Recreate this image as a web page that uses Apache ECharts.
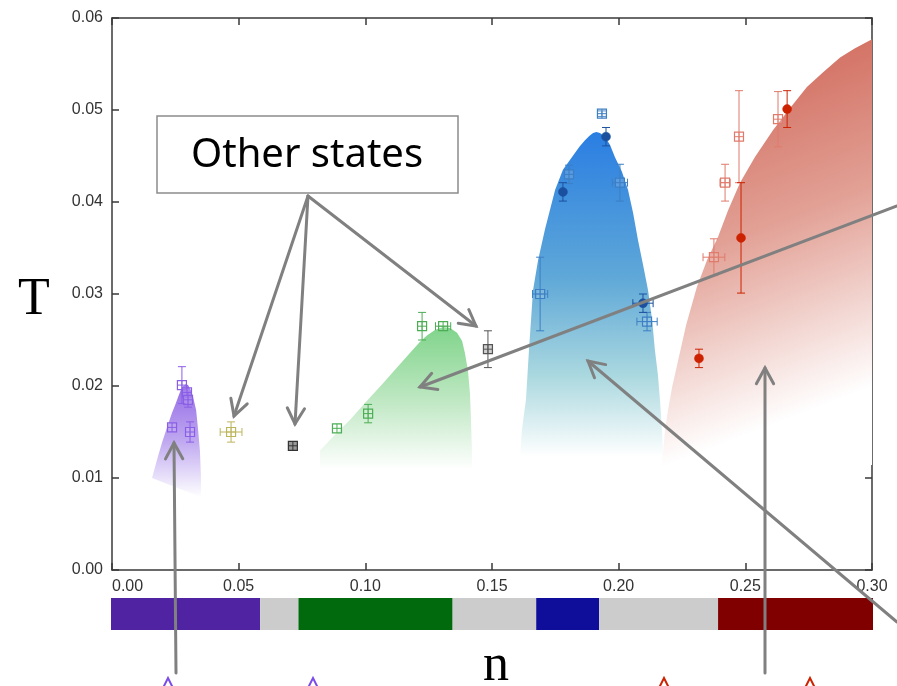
<!DOCTYPE html>
<html><head><meta charset="utf-8">
<script src="https://cdn.jsdelivr.net/npm/echarts@6/dist/echarts.min.js"></script>
<style>html,body{margin:0;padding:0;background:#fff}#c{width:897px;height:686px}</style>
</head><body><div id="c"></div>
<script>
// ---------- data ----------
const xTickLabels = ['0.00','0.05','0.10','0.15','0.20','0.25','0.30'];
const yTickLabels = ['0.00','0.01','0.02','0.03','0.04','0.05','0.06'];

// phase strip under the axis (n ranges)
const phaseStart = [0.000, 0.0587, 0.0738, 0.1345, 0.1674, 0.1922, 0.2390];
const phaseEnd   = [0.0587, 0.0738, 0.1345, 0.1674, 0.1922, 0.2390, 0.300];
const phaseKind  = ['purple','none','green','none','blue','none','red'];

// shaded phase regions (outline in n, T)
const purpleRegionN = [0.0158, 0.0178, 0.0197, 0.0217, 0.0237, 0.0249, 0.0261, 0.0272, 0.0280, 0.0292, 0.0300, 0.0312, 0.0320, 0.0332, 0.0339, 0.0347, 0.0351, 0.0351];
const purpleRegionT = [0.0100, 0.0120, 0.0138, 0.0155, 0.0171, 0.0179, 0.0188, 0.0196, 0.0200, 0.0202, 0.0201, 0.0195, 0.0188, 0.0174, 0.0155, 0.0130, 0.0103, 0.0079];
const greenRegionN = [0.0821, 0.0821, 0.0880, 0.0939, 0.1003, 0.1070, 0.1125, 0.1176, 0.1216, 0.1243, 0.1275, 0.1307, 0.1334, 0.1362, 0.1382, 0.1393, 0.1405, 0.1413, 0.1417, 0.1421, 0.1421];
const greenRegionT = [0.0109, 0.0130, 0.0147, 0.0163, 0.0183, 0.0203, 0.0220, 0.0236, 0.0248, 0.0255, 0.0261, 0.0264, 0.0263, 0.0258, 0.0249, 0.0236, 0.0217, 0.0192, 0.0163, 0.0130, 0.0109];
const blueRegionN = [0.1611, 0.1618, 0.1634, 0.1646, 0.1662, 0.1682, 0.1709, 0.1749, 0.1780, 0.1816, 0.1845, 0.1867, 0.1885, 0.1899, 0.1912, 0.1926, 0.1946, 0.1966, 0.1985, 0.2013, 0.2037, 0.2057, 0.2076, 0.2096, 0.2116, 0.2132, 0.2143, 0.2155, 0.2163, 0.2171, 0.2175];
const blueRegionT = [0.0123, 0.0152, 0.0185, 0.0239, 0.0304, 0.0337, 0.0370, 0.0413, 0.0435, 0.0449, 0.0460, 0.0467, 0.0472, 0.0475, 0.0476, 0.0475, 0.0471, 0.0462, 0.0449, 0.0433, 0.0413, 0.0388, 0.0359, 0.0332, 0.0304, 0.0272, 0.0239, 0.0212, 0.0185, 0.0152, 0.0123];
const redRegionN = [0.2171, 0.2183, 0.2195, 0.2211, 0.2226, 0.2266, 0.2309, 0.2349, 0.2392, 0.2432, 0.2479, 0.2538, 0.2609, 0.2676, 0.2743, 0.2807, 0.2874, 0.2933, 0.3000, 0.3000];
const redRegionT = [0.0114, 0.0152, 0.0174, 0.0199, 0.0217, 0.0266, 0.0308, 0.0337, 0.0362, 0.0391, 0.0421, 0.0449, 0.0478, 0.0502, 0.0525, 0.0541, 0.0557, 0.0567, 0.0577, 0.0114];

// measurements: [n, T, n error, T error]
const purpleOpen = [[0.0237,0.0155,0,0],[0.0276,0.0201,0,0.0020],[0.0296,0.0193,0,0],[0.0300,0.0185,0,0.0008],[0.0308,0.0150,0,0.0011]];
const yellowOpen = [[0.0470,0.0150,0.0043,0.0011]];
const blackOpen  = [[0.0714,0.0135,0,0.0004]];
const greenOpen  = [[0.0888,0.0154,0,0],[0.1011,0.0170,0,0.0010],[0.1224,0.0265,0,0.0015],[0.1307,0.0265,0.0030,0]];
const grayOpen   = [[0.1484,0.0240,0,0.0020]];
const blueOpen   = [[0.1690,0.0300,0.0030,0.0040],[0.1804,0.0430,0,0.0010],[0.1934,0.0496,0,0.0003],[0.2005,0.0421,0.0030,0.0020],[0.2112,0.0270,0.0040,0.0010]];
const blueFilled = [[0.1780,0.0411,0,0.0010],[0.1950,0.0471,0,0.0010],[0.2096,0.0290,0.0040,0.0010]];
const redOpen    = [[0.2376,0.0340,0.0043,0.0020],[0.2420,0.0421,0.0020,0.0020],[0.2475,0.0471,0,0.0050],[0.2629,0.0490,0,0.0030]];
const redFilled  = [[0.2317,0.0230,0,0.0010],[0.2483,0.0361,0,0.0060],[0.2665,0.0501,0,0.0020]];

// ---------- rendering ----------
const chart = echarts.init(document.getElementById('c'));
const G = echarts.graphic;

const phaseColors = {purple:'#4f23a1', none:'#cccccc', green:'#006a0d', blue:'#0e0e9b', red:'#800000'};

function regionSeries(ns, ts, fill){
  const data = ns.map((n,i)=>[n, ts[i]]);
  return {
    type:'custom', xAxisIndex:0, yAxisIndex:0, z:1, silent:true, clip:true,
    data: data,
    renderItem: function(params, api){
      if (params.dataIndex !== 0) return;
      const pts = data.map(d => api.coord(d));
      return {type:'polygon', shape:{points:pts}, style:{fill:fill, stroke:'none'}};
    }
  };
}

function pointSeries(data, color, filled, boxFill){
  return {
    type:'custom', xAxisIndex:0, yAxisIndex:0, z:5, silent:true,
    data: data,
    renderItem: function(params, api){
      const n = api.value(0), T = api.value(1), dn = api.value(2), dT = api.value(3);
      const c = api.coord([n, T]);
      const h = 4.5, cap = 4;
      const st = {stroke: color, lineWidth: 1, fill: null};
      const ch = [];
      if (dT > 0){
        const a = api.coord([n, T + dT]), b = api.coord([n, T - dT]);
        ch.push({type:'line', shape:{x1:c[0], y1:a[1], x2:c[0], y2:b[1]}, style:st});
        ch.push({type:'line', shape:{x1:c[0]-cap, y1:a[1], x2:c[0]+cap, y2:a[1]}, style:st});
        ch.push({type:'line', shape:{x1:c[0]-cap, y1:b[1], x2:c[0]+cap, y2:b[1]}, style:st});
      }
      if (dn > 0){
        const a = api.coord([n - dn, T]), b = api.coord([n + dn, T]);
        ch.push({type:'line', shape:{x1:a[0], y1:c[1], x2:b[0], y2:c[1]}, style:st});
        ch.push({type:'line', shape:{x1:a[0], y1:c[1]-cap, x2:a[0], y2:c[1]+cap}, style:st});
        ch.push({type:'line', shape:{x1:b[0], y1:c[1]-cap, x2:b[0], y2:c[1]+cap}, style:st});
      }
      if (filled){
        ch.push({type:'circle', shape:{cx:c[0], cy:c[1], r:4.5}, style:{fill:color, stroke:color, lineWidth:0.5}});
      } else {
        ch.push({type:'rect', shape:{x:c[0]-h, y:c[1]-h, width:2*h, height:2*h}, style:{fill:boxFill || 'rgba(255,255,255,0.15)', stroke:color, lineWidth:1.2}});
        ch.push({type:'line', shape:{x1:c[0]-h, y1:c[1], x2:c[0]+h, y2:c[1]}, style:st});
        ch.push({type:'line', shape:{x1:c[0], y1:c[1]-h, x2:c[0], y2:c[1]+h}, style:st});
      }
      return {type:'group', children:ch};
    }
  };
}

const phaseData = phaseStart.map((s,i)=>[s, phaseEnd[i], i]);
const phaseSeries = {
  type:'custom', xAxisIndex:2, yAxisIndex:2, silent:true,
  data: phaseData,
  renderItem: function(params, api){
    const a = api.coord([api.value(0), 1]), b = api.coord([api.value(1), 0]);
    return {type:'rect', shape:{x:a[0], y:a[1], width:b[0]-a[0], height:b[1]-a[1]},
            style:{fill: phaseColors[phaseKind[api.value(2)]]}};
  }
};

const lin = (stops, x2, y2, x0, y0) => new G.LinearGradient(x0||0, y0||0, x2, y2, stops.map(s=>({offset:s[0], color:s[1]})));

function arrow(x1,y1,x2,y2){
  const a = Math.atan2(y2-y1, x2-x1), L = 18, s = 0.5;
  const st = {stroke:'#808080', lineWidth:3, lineCap:'round', lineJoin:'miter', fill:null};
  return [
    {type:'line', shape:{x1,y1,x2,y2}, style:st, z:20},
    {type:'polyline', shape:{points:[[x2-L*Math.cos(a-s), y2-L*Math.sin(a-s)],[x2,y2],[x2-L*Math.cos(a+s), y2-L*Math.sin(a+s)]]}, style:st, z:20}
  ];
}
function caret(x, color){
  return {type:'polyline', shape:{points:[[x-6,690],[x,678],[x+6,690]]}, style:{stroke:color, lineWidth:2, fill:null}, z:20};
}

const axisLineStyle = {color:'#3a3a3a', width:1.5};
const option = {
  animation:false,
  backgroundColor:'#fff',
  grid:[
    {left:112, right:25, top:18, bottom:116},
    {left:111, right:24, top:598, height:32}
  ],
  xAxis:[
    {type:'value', gridIndex:0, position:'bottom', min:0, max:0.3, interval:0.05,
     axisLine:{show:true, onZero:false, lineStyle:axisLineStyle},
     axisTick:{show:true, inside:true, length:7, lineStyle:axisLineStyle},
     axisLabel:{show:true, fontFamily:'Liberation Sans', fontSize:16, color:'#333', margin:9,
                alignMinLabel:'left', formatter:(v)=>xTickLabels[Math.round(v/0.05)]},
     splitLine:{show:false}},
    {type:'value', gridIndex:0, position:'top', min:0, max:0.3, interval:0.05,
     axisLine:{show:true, onZero:false, lineStyle:axisLineStyle},
     axisTick:{show:true, inside:true, length:7, lineStyle:axisLineStyle},
     axisLabel:{show:false}, splitLine:{show:false}},
    {type:'value', gridIndex:1, min:0, max:0.3, show:false}
  ],
  yAxis:[
    {type:'value', gridIndex:0, position:'left', min:0, max:0.06, interval:0.01,
     axisLine:{show:true, onZero:false, lineStyle:axisLineStyle},
     axisTick:{show:true, inside:true, length:7, lineStyle:axisLineStyle},
     axisLabel:{show:true, fontFamily:'Liberation Sans', fontSize:16, color:'#333', margin:9,
                formatter:(v)=>yTickLabels[Math.round(v/0.01)]},
     splitLine:{show:false}},
    {type:'value', gridIndex:0, position:'right', min:0, max:0.06, interval:0.01,
     axisLine:{show:true, onZero:false, lineStyle:axisLineStyle},
     axisTick:{show:true, inside:true, length:7, lineStyle:axisLineStyle},
     axisLabel:{show:false}, splitLine:{show:false}},
    {type:'value', gridIndex:1, min:0, max:1, show:false}
  ],
  series:[
    regionSeries(purpleRegionN, purpleRegionT, lin([[0,'#946ae6'],[0.5,'#bfa8f0'],[1,'#ffffff']],0,1)),
    regionSeries(greenRegionN, greenRegionT, lin([[0,'#80d48b'],[0.5,'#bde7c1'],[1,'#ffffff']],0,1)),
    regionSeries(blueRegionN, blueRegionT, lin([[0,'#2a7ee2'],[0.45,'#5fa8d8'],[0.75,'#aad8df'],[1,'#ffffff']],0,1)),
    regionSeries(redRegionN, redRegionT, lin([[0,'#d0685a'],[0.42,'#e2a095'],[0.88,'#ffffff'],[1,'#ffffff']],0.95,0.95,0.25,0.05)),
    pointSeries(purpleOpen, '#8a5fe6', false),
    pointSeries(yellowOpen, '#bdb45c', false),
    pointSeries(blackOpen, '#333333', false, '#9a9a9a'),
    pointSeries(greenOpen, '#4cad55', false),
    pointSeries(grayOpen, '#555555', false, 'rgba(120,120,120,0.35)'),
    pointSeries(blueOpen, '#3d7fc4', false),
    pointSeries(blueFilled, '#1b509e', true),
    pointSeries(redOpen, '#e07b6c', false),
    pointSeries(redFilled, '#cc2200', true),
    phaseSeries
  ],
  graphic:[].concat(
    arrow(308,196,234,416), arrow(308,196,295,424), arrow(308,196,476,326),
    arrow(897,206,420,387), arrow(897,622,588,361), arrow(765,673,765,368), arrow(176,673,174,443),
    [
      {type:'rect', shape:{x:157, y:116, width:301, height:77}, style:{fill:'#fff', stroke:'#8c8c8c', lineWidth:1.5}, z:30},
      {type:'text', x:307, y:156, style:{text:'Other states', font:'40px "Noto Sans"', fill:'#000', align:'center', verticalAlign:'middle'}, z:31},
      {type:'text', x:34, y:300, style:{text:'T', font:'52px "Liberation Serif"', fill:'#000', align:'center', verticalAlign:'middle'}, z:31},
      {type:'text', x:496, y:666, style:{text:'n', font:'52px "Liberation Serif"', fill:'#000', align:'center', verticalAlign:'middle'}, z:31},
      caret(168,'#7b4de8'), caret(313,'#7b4de8'), caret(664,'#cc2200'), caret(810,'#cc2200')
    ]
  )
};
chart.setOption(option);
</script>
</body></html>
